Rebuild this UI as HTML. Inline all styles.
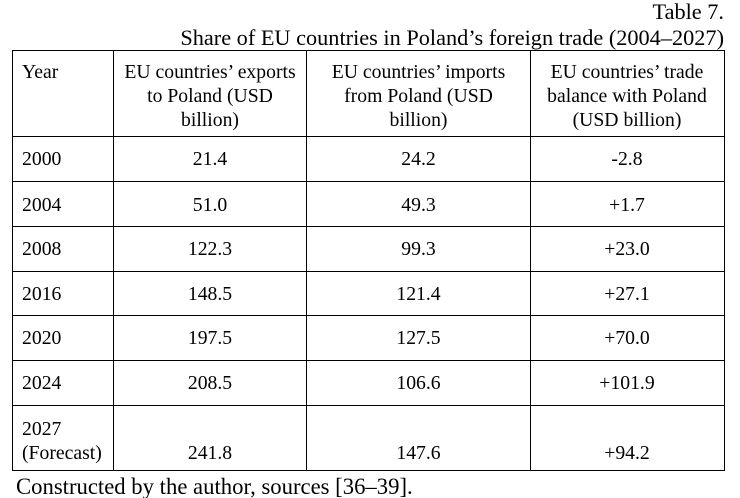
<!DOCTYPE html>
<html>
<head>
<meta charset="utf-8">
<style>
  html, body { margin:0; padding:0; background:#fff; }
  #c { position:relative; width:740px; height:498px; overflow:hidden; background:#fff;
       font-family:"Liberation Serif", "Times New Roman", serif; color:#000; }
  .h { position:absolute; background:#000; height:1px; left:12px; width:713px; }
  .v { position:absolute; background:#000; width:1px; top:50px; height:421px; }
  .t { position:absolute; white-space:nowrap; font-size:19.7px; line-height:24px; }
  .c2 { left:110px; width:200px; text-align:center; }
  .c3 { left:318.5px; width:200px; text-align:center; }
  .c4 { left:527px; width:200px; text-align:center; }
  .c1 { left:22px; }
  .big { position:absolute; white-space:nowrap; font-size:22.3px; line-height:22.3px; }
</style>
</head>
<body>
<div id="c">
  <div class="big" style="right:16px; top:0.5px; text-align:right;">Table 7.</div>
  <div class="big" style="right:16px; top:26.5px; text-align:right;">Share of EU countries in Poland’s foreign trade (2004–2027)</div>

  <!-- horizontal lines -->
  <div class="h" style="top:50px;"></div>
  <div class="h" style="top:136px;"></div>
  <div class="h" style="top:181px;"></div>
  <div class="h" style="top:226px;"></div>
  <div class="h" style="top:271px;"></div>
  <div class="h" style="top:315px;"></div>
  <div class="h" style="top:360px;"></div>
  <div class="h" style="top:405px;"></div>
  <div class="h" style="top:470px;"></div>
  <!-- vertical lines -->
  <div class="v" style="left:12px;"></div>
  <div class="v" style="left:113px;"></div>
  <div class="v" style="left:306px;"></div>
  <div class="v" style="left:530px;"></div>
  <div class="v" style="left:724px;"></div>

  <!-- header -->
  <div class="t c1" style="top:60px;">Year</div>
  <div class="t c2" style="top:60px;">EU countries’ exports<br>to Poland (USD<br>billion)</div>
  <div class="t c3" style="top:60px;">EU countries’ imports<br>from Poland (USD<br>billion)</div>
  <div class="t c4" style="top:60px;">EU countries’ trade<br>balance with Poland<br>(USD billion)</div>

  <!-- rows -->
  <div class="t c1" style="top:147px;">2000</div>
  <div class="t c2" style="top:147px;">21.4</div>
  <div class="t c3" style="top:147px;">24.2</div>
  <div class="t c4" style="top:147px;">-2.8</div>

  <div class="t c1" style="top:193px;">2004</div>
  <div class="t c2" style="top:193px;">51.0</div>
  <div class="t c3" style="top:193px;">49.3</div>
  <div class="t c4" style="top:193px;">+1.7</div>

  <div class="t c1" style="top:237px;">2008</div>
  <div class="t c2" style="top:237px;">122.3</div>
  <div class="t c3" style="top:237px;">99.3</div>
  <div class="t c4" style="top:237px;">+23.0</div>

  <div class="t c1" style="top:282px;">2016</div>
  <div class="t c2" style="top:282px;">148.5</div>
  <div class="t c3" style="top:282px;">121.4</div>
  <div class="t c4" style="top:282px;">+27.1</div>

  <div class="t c1" style="top:326px;">2020</div>
  <div class="t c2" style="top:326px;">197.5</div>
  <div class="t c3" style="top:326px;">127.5</div>
  <div class="t c4" style="top:326px;">+70.0</div>

  <div class="t c1" style="top:371px;">2024</div>
  <div class="t c2" style="top:371px;">208.5</div>
  <div class="t c3" style="top:371px;">106.6</div>
  <div class="t c4" style="top:371px;">+101.9</div>

  <div class="t c1" style="top:417px;">2027<br>(Forecast)</div>
  <div class="t c2" style="top:441px;">241.8</div>
  <div class="t c3" style="top:441px;">147.6</div>
  <div class="t c4" style="top:441px;">+94.2</div>

  <div class="big" style="left:16px; top:475.5px; font-size:22.7px;">Constructed by the author, sources [36–39].</div>
</div>
</body>
</html>
